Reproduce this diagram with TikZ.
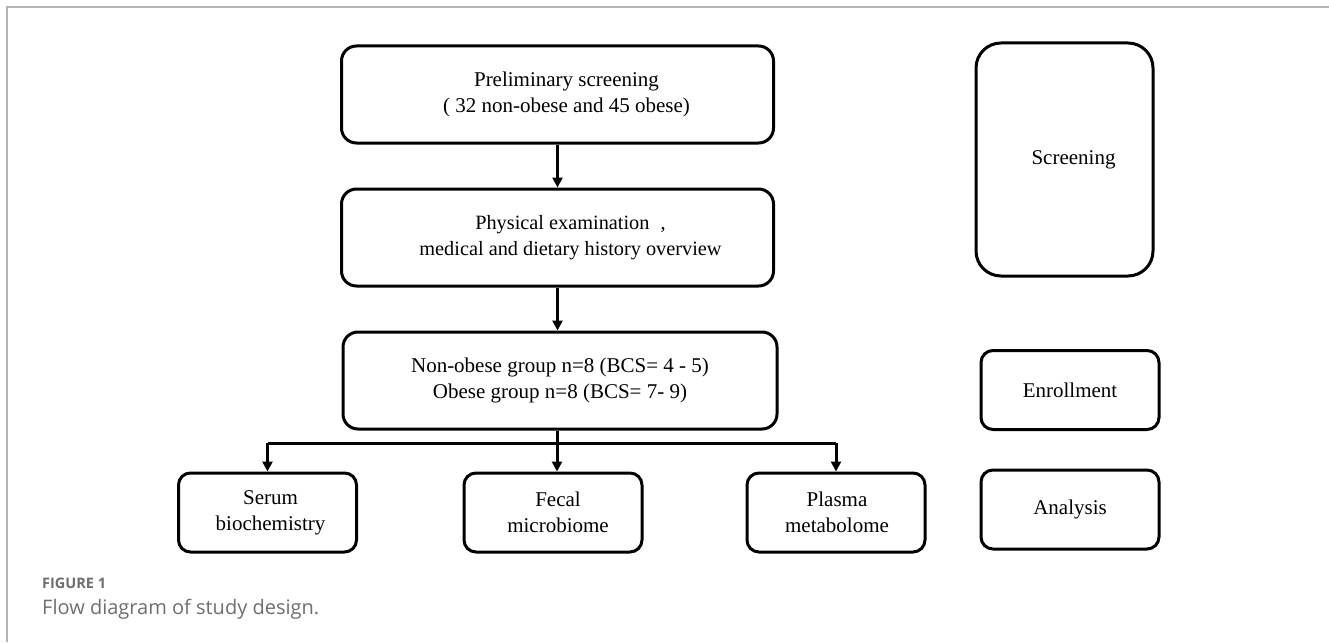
\documentclass[tikz,border=0pt]{standalone}
\usepackage{fontspec}
\setmainfont{Liberation Serif}
\newfontfamily\capfont{Open Sans}
\usetikzlibrary{arrows.meta}
\definecolor{framegray}{HTML}{B4B4B4}
\definecolor{capgray}{HTML}{6E6E6E}
\tikzset{
  box/.style={draw=black, line width=3pt, rounded corners=15pt, inner sep=0pt},
  smallbox/.style={box, rounded corners=12pt, minimum width=178pt, minimum height=79pt},
  bigbox/.style={box, minimum width=432pt, minimum height=97pt},
  txt/.style={inner sep=0pt, align=center, font=\fontsize{21}{26}\selectfont},
  conn/.style={line width=3pt, -{Triangle[width=10pt,length=10pt]}},
  plain/.style={line width=3pt},
}
\begin{document}
\begin{tikzpicture}[x=1pt,y=-1pt]
\useasboundingbox (0,0) rectangle (1329,642);
\draw[framegray, line width=1.2pt] (7,642) -- (7,7) -- (1329,7);
% main column
\node[bigbox] (pre) at (557.5,94.5) {};
\node[txt] (preT) at ([xshift=9pt]pre.center) {Preliminary screening\\( 32 non-obese and 45 obese)};
\node[bigbox] (phys) at (557.5,237.5) {};
\node[txt, font=\fontsize{20.3}{26}\selectfont] (physT) at ([xshift=13pt]phys.center) {Physical examination\hspace{0.3em} ,\\medical and dietary history overview};
\node[bigbox, minimum width=434pt] (grp) at (560,380.5) {};
\node[txt] (grpT) at (grp.center) {Non-obese group n=8 (BCS= 4 - 5)\\Obese group n=8 (BCS= 7- 9)};
% analysis boxes
\node[smallbox] (serum) at (267.5,512.5) {};
\node[txt] (serumT) at ([xshift=3pt]serum.center) {Serum\\biochemistry};
\node[smallbox] (fecal) at (553,512.5) {};
\node[txt] (fecalT) at ([xshift=5pt]fecal.center) {Fecal\\microbiome};
\node[smallbox] (plasma) at (836,512.5) {};
\node[txt] (plasmaT) at ([xshift=1pt]plasma.center) {Plasma\\metabolome};
% stage boxes
\node[box, rounded corners=25pt, minimum width=177pt, minimum height=233pt] (scr) at (1064.5,159.5) {};
\node[txt] (scrT) at ([xshift=9pt]scr.center) {Screening};
\node[smallbox] (enr) at (1070,390) {};
\node[txt] (enrT) at (enr.center) {Enrollment};
\node[smallbox] (ana) at (1070,509.5) {};
\node[txt] (anaT) at (ana.center) {Analysis};
% connectors
\draw[conn] (pre.south) -- (phys.north);
\draw[conn] (phys.south) -- (phys.south |- grp.north);
\coordinate (br) at (557,443);
\draw[plain] (grp.south -| br) -- (br);
\draw[plain] (serum.north |- br) -- (plasma.north |- br);
\draw[conn] (br) -- (br |- fecal.north);
\draw[conn] (serum.north |- br) -- (serum.north);
\draw[conn] (plasma.north |- br) -- (plasma.north);
% caption
\node[anchor=base west, inner sep=0pt, text=capgray, font=\capfont\fontsize{14.5}{16}\selectfont\bfseries] (figlabel) at (42,588) {FIGURE 1};
\node[anchor=base west, inner sep=0pt, text=capgray, font=\capfont\fontsize{20}{24}\selectfont] (figcap) at (42,614) {Flow diagram of study design.};
\end{tikzpicture}
\end{document}
